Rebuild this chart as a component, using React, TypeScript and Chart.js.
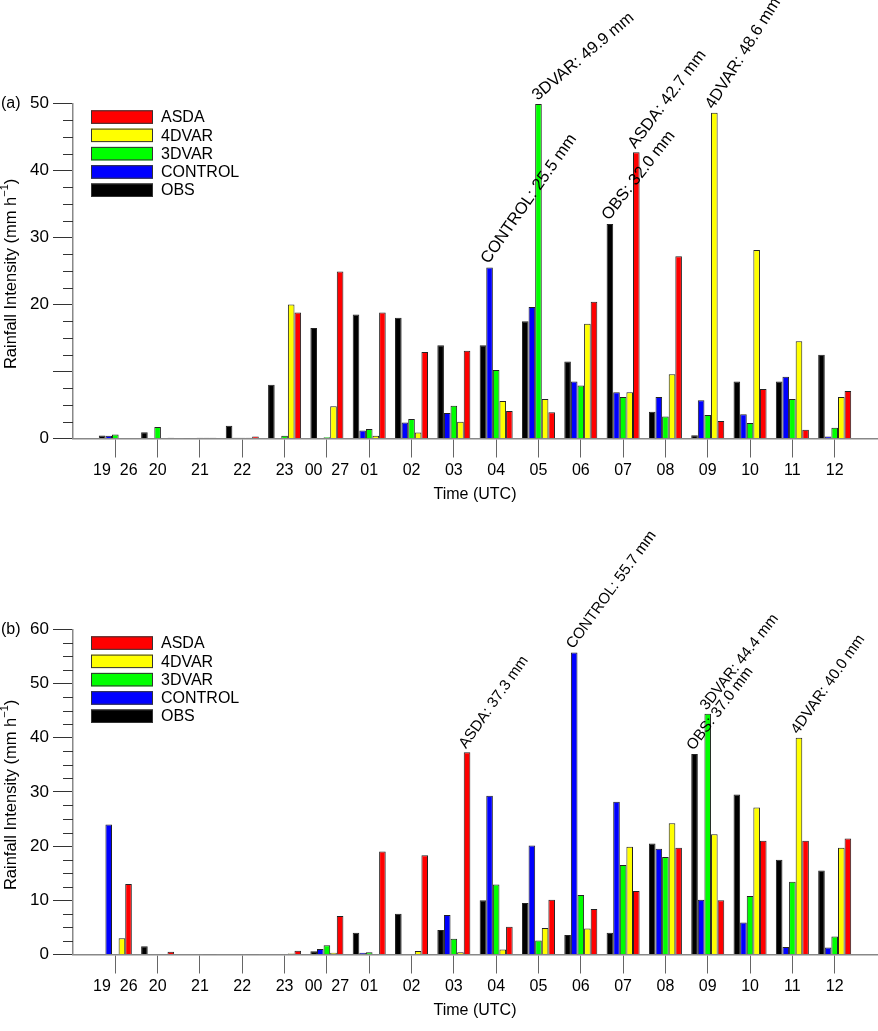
import { useEffect, useRef } from "react"
import Chart from "chart.js/auto"

// hours along the x axis (date shown next to the first hour of each day)
const hours = ["19  26", "20", "21", "22", "23", "00  27", "01", "02", "03", "04", "05", "06", "07", "08", "09", "10", "11", "12"]
const seriesNames = ["OBS", "CONTROL", "3DVAR", "4DVAR", "ASDA"]
const seriesColors = ["#000000", "#0000ff", "#00ff00", "#ffff00", "#ff0000"]

// panel (a)
const obsA = [0.45, 0.95, 0.05, 1.9, 8.0, 16.5, 18.5, 18.0, 13.9, 13.9, 17.5, 11.5, 32.0, 4.0, 0.5, 8.5, 8.5, 12.5]
const controlA = [0.4, 0, 0, 0.1, 0, 0, 1.2, 2.4, 3.8, 25.5, 19.6, 8.5, 6.9, 6.2, 5.7, 3.6, 9.2, 0.3]
const var3A = [0.6, 1.7, 0.1, 0.1, 0.4, 0.2, 1.4, 2.9, 4.9, 10.2, 49.9, 7.9, 6.2, 3.3, 3.5, 2.3, 5.9, 1.6]
const var4A = [0, 0, 0.1, 0.1, 20.0, 4.8, 0.4, 0.9, 2.5, 5.6, 5.9, 17.1, 6.9, 9.6, 48.6, 28.1, 14.5, 6.2]
const asdaA = [0, 0.1, 0.1, 0.3, 18.8, 24.9, 18.8, 12.9, 13.1, 4.1, 3.9, 20.4, 42.7, 27.2, 2.6, 7.4, 1.3, 7.1]
const yLabelsA = ["0", "", "20", "30", "40", "50"]
// [hour index, series name] of the labelled peaks
const peaksA: [number, string][] = [[9, "CONTROL"], [10, "3DVAR"], [12, "OBS"], [12, "ASDA"], [14, "4DVAR"]]

// panel (b)
const obsB = [0, 1.5, 0, 0, 0, 0.6, 4.0, 7.5, 4.5, 10.0, 9.5, 3.6, 4.0, 20.5, 37.0, 29.5, 17.5, 15.5]
const controlB = [24.0, 0, 0, 0, 0, 1.0, 0.3, 0.1, 7.3, 29.3, 20.1, 55.7, 28.2, 19.5, 10.1, 5.9, 1.4, 1.3]
const var3B = [0, 0, 0, 0, 0.1, 1.7, 0.4, 0, 2.9, 12.9, 2.6, 11.0, 16.5, 18.0, 44.4, 10.8, 13.4, 3.3]
const var4B = [3.0, 0, 0.05, 0.05, 0.2, 0.3, 0.1, 0.65, 0.4, 0.9, 4.9, 4.8, 19.9, 24.2, 22.2, 27.1, 40.0, 19.7]
const asdaB = [13.0, 0.5, 0.05, 0.05, 0.7, 7.1, 19.0, 18.3, 37.3, 5.1, 10.1, 8.4, 11.7, 19.7, 10.0, 21.0, 21.0, 21.4]
const yLabelsB = ["0", "10", "20", "30", "40", "50", "60"]
const peaksB: [number, string][] = [[8, "ASDA"], [11, "CONTROL"], [14, "OBS"], [14, "3DVAR"], [16, "4DVAR"]]

const FONT = "'Liberation Sans', Arial, Helvetica, sans-serif"

interface PanelProps {
  tag: string
  top: number
  height: number
  plotTop: number
  yMax: number
  yLabels: string[]
  series: number[][]
  peaks: [number, string][]
  peakAngles: number[]
  peakFont: number
}

function Panel({ tag, top, height, plotTop, yMax, yLabels, series, peaks, peakAngles, peakFont }: PanelProps) {
  const canvasRef = useRef<HTMLCanvasElement | null>(null)

  useEffect(() => {
    const canvas = canvasRef.current
    if (!canvas) return

    const decorations = {
      id: "decorations",
      afterDraw(chart: any) {
        const { ctx, chartArea, scales } = chart
        const y = scales.y
        ctx.save()

        // minor ticks on the y axis
        ctx.strokeStyle = "#333"
        ctx.lineWidth = 1
        for (let v = 2.5; v < yMax; v += 2.5) {
          if (v % 10 === 0) continue
          const py = Math.round(y.getPixelForValue(v)) + 0.5
          ctx.beginPath()
          ctx.moveTo(chartArea.left - 10, py)
          ctx.lineTo(chartArea.left, py)
          ctx.stroke()
        }

        // panel tag
        ctx.fillStyle = "#000"
        ctx.font = `16px ${FONT}`
        ctx.textAlign = "left"
        ctx.textBaseline = "middle"
        ctx.fillText(tag, 1, chartArea.top)

        // y title with superscript
        const cy = (chartArea.top + chartArea.bottom) / 2 + 3
        const main = "Rainfall Intensity (mm h"
        const sup = "\u22121"
        const end = ")"
        ctx.font = `16.5px ${FONT}`
        const w1 = ctx.measureText(main).width
        const w3 = ctx.measureText(end).width
        ctx.font = `11px ${FONT}`
        const w2 = ctx.measureText(sup).width
        ctx.save()
        ctx.translate(11, cy)
        ctx.rotate(-Math.PI / 2)
        let x0 = -(w1 + w2 + w3) / 2
        ctx.font = `16.5px ${FONT}`
        ctx.fillText(main, x0, 0)
        x0 += w1
        ctx.font = `11px ${FONT}`
        ctx.fillText(sup, x0, -6)
        x0 += w2
        ctx.font = `16.5px ${FONT}`
        ctx.fillText(end, x0, 0)
        ctx.restore()

        // legend, last series on top
        ctx.font = `16px ${FONT}`
        ctx.textBaseline = "middle"
        const order = [...seriesNames.keys()].reverse()
        order.forEach((s, row) => {
          const by = chartArea.top + 7 + row * 18.3
          ctx.fillStyle = seriesColors[s]
          ctx.fillRect(91, by, 62, 13.5)
          ctx.strokeStyle = "#333"
          ctx.lineWidth = 1
          ctx.strokeRect(91.5, by + 0.5, 61, 12.5)
          ctx.fillStyle = "#000"
          ctx.fillText(seriesNames[s], 161, by + 7.5)
        })

        // peak labels
        ctx.font = `${peakFont}px ${FONT}`
        ctx.textBaseline = "alphabetic"
        peaks.forEach(([i, name], k) => {
          const s = seriesNames.indexOf(name)
          const bar = chart.getDatasetMeta(s).data[i]
          const text = `${name}: ${series[s][i].toFixed(1)} mm`
          ctx.save()
          ctx.translate(bar.x - 1, bar.y - 3)
          ctx.rotate((-peakAngles[k] * Math.PI) / 180)
          ctx.fillText(text, 0, 0)
          ctx.restore()
        })

        ctx.restore()
      },
    }

    const chart = new Chart(canvas, {
      type: "bar",
      data: {
        datasets: seriesNames.map((name, s) => ({
          label: name,
          data: series[s].map((v, i) => ({ x: i, y: v })),
          backgroundColor: seriesColors[s],
          borderColor: "#222",
          borderWidth: 1,
          categoryPercentage: 0.78,
          barPercentage: 1,
        })),
      },
      options: {
        animation: false,
        responsive: true,
        maintainAspectRatio: false,
        layout: { padding: { top: plotTop, right: 1, left: 0, bottom: 0 } },
        plugins: { legend: { display: false }, tooltip: { enabled: false } },
        scales: {
          x: {
            type: "linear",
            min: -1,
            max: 18,
            offset: false,
            afterBuildTicks: (scale: any) => {
              scale.ticks = hours.map((_, i) => ({ value: i }))
            },
            afterFit: (scale: any) => {
              scale.height = 76.5
            },
            ticks: {
              autoSkip: false,
              maxRotation: 0,
              padding: 3,
              color: "#000",
              font: { family: FONT, size: 16 },
              callback: (v: any) => hours[v] ?? "",
            },
            grid: { drawOnChartArea: false, offset: false, tickLength: 19, color: "#666", lineWidth: 1 },
            border: { color: "#888", width: 1.5 },
            title: {
              display: true,
              text: "Time (UTC)",
              color: "#000",
              font: { family: FONT, size: 16 },
              padding: { top: 0, bottom: 10.4 },
            },
          },
          y: {
            min: 0,
            max: yMax,
            afterFit: (scale: any) => {
              scale.width = 73
            },
            ticks: {
              stepSize: 10,
              padding: 4,
              color: "#000",
              font: { family: FONT, size: 17 },
              callback: (_v: any, index: number) => yLabels[index],
            },
            grid: { drawOnChartArea: false, tickLength: 20, color: "#333", lineWidth: 1 },
            border: { color: "#888", width: 1.5 },
          },
        },
      } as any,
      plugins: [decorations],
    })

    return () => chart.destroy()
  }, [])

  return (
    <div style={{ position: "absolute", left: 0, top, width: 878, height }}>
      <canvas ref={canvasRef} />
    </div>
  )
}

export default function App() {
  return (
    <div style={{ position: "absolute", left: 0, top: 0, width: 878, height: 1031, overflow: "hidden", background: "#fff" }}>
      <Panel
        tag="(a)"
        top={0}
        height={515}
        plotTop={103.3}
        yMax={50}
        yLabels={yLabelsA}
        series={[obsA, controlA, var3A, var4A, asdaA]}
        peaks={peaksA}
        peakAngles={[55, 40, 52, 53, 58]}
        peakFont={16.5}
      />
      <Panel
        tag="(b)"
        top={495}
        height={536}
        plotTop={134.3}
        yMax={60}
        yLabels={yLabelsB}
        series={[obsB, controlB, var3B, var4B, asdaB]}
        peaks={peaksB}
        peakAngles={[55, 54, 53, 52, 55]}
        peakFont={15.2}
      />
    </div>
  )
}
